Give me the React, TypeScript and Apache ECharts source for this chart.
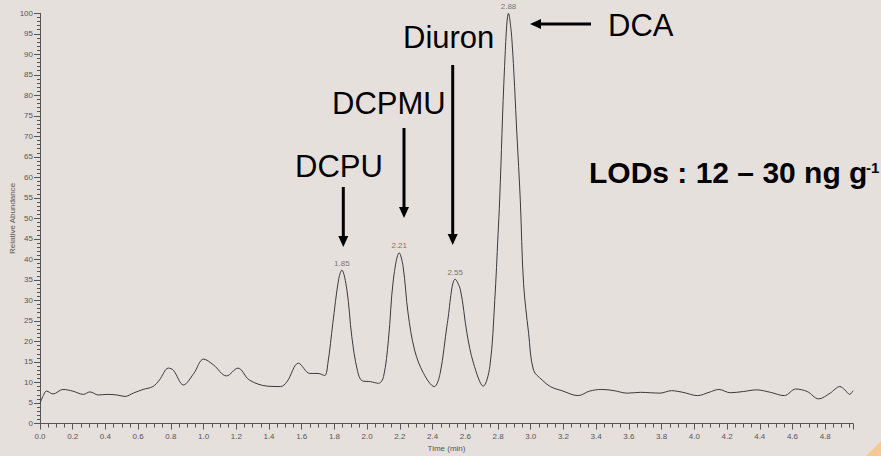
import React, { useEffect, useRef } from "react";
import * as echarts from "echarts";

const times = [
  0.0, 0.02, 0.04, 0.08, 0.14, 0.2, 0.265, 0.306, 0.357, 0.41, 0.47, 0.52, 0.57, 0.63, 0.69, 0.73, 0.785,
  0.815, 0.877, 0.94, 1.0, 1.06, 1.14, 1.21, 1.28, 1.39, 1.47, 1.51, 1.58, 1.65, 1.7, 1.74, 1.76, 1.79,
  1.825, 1.845, 1.876, 1.906, 1.94, 1.97, 2.02, 2.07, 2.1, 2.13, 2.16, 2.196, 2.22, 2.25, 2.29, 2.345,
  2.41, 2.446, 2.49, 2.538, 2.57, 2.61, 2.65, 2.71, 2.75, 2.78, 2.8, 2.81, 2.84, 2.864, 2.885, 2.915,
  2.936, 2.956, 2.987, 3.017, 3.07, 3.12, 3.19, 3.29, 3.36, 3.435, 3.51, 3.59, 3.67, 3.73, 3.79, 3.86,
  3.93, 4.02, 4.09, 4.15, 4.22, 4.3, 4.38, 4.465, 4.55, 4.62, 4.69, 4.76, 4.83, 4.89, 4.92, 4.95, 4.97,
];
const abundance = [
  4.9, 6.8, 7.9, 7.2, 8.3, 7.9, 7.1, 7.7, 6.95, 7.1, 6.95, 6.6, 7.4, 8.3, 9.0, 10.6, 13.5,
  13.0, 9.4, 12.2, 15.7, 14.3, 11.6, 13.5, 10.6, 9.1, 9.0, 10.2, 14.7, 12.2, 12.2, 11.7, 14.7, 24.4,
  35, 37.4, 32.6, 21.2, 13, 10.4, 10.2, 9.8, 11.4, 20.4, 35, 41.6, 38.2, 26.9, 17.9, 12.2,
  9.0, 12.2, 24.4, 35.2, 32.6, 22, 14.7, 9.1, 13.9, 30, 46, 54.5, 87, 100, 93.5, 70.8,
  54.5, 34.2, 22, 13, 10.6, 9.0, 8.0, 6.8, 7.9, 8.3, 8.0, 7.4, 7.6, 7.5, 7.4, 8.0,
  7.6, 6.8, 7.6, 8.3, 7.5, 7.8, 8.2, 7.6, 6.8, 8.4, 7.8, 6.0, 7.4, 9.0, 8.2, 7.1, 8.0,
];
const peakTimes = [1.845, 2.196, 2.538, 2.864];
const peakLabels = ["1.85", "2.21", "2.55", "2.88"];
const compoundNames = ["DCPU", "DCPMU", "Diuron", "DCA"];
const lodText = "LODs : 12 – 30 ng g";
const lodSup = "-1";

const FONT = "'Liberation Sans', Arial, Helvetica, sans-serif";

export default function App() {
  const ref = useRef<HTMLDivElement>(null);
  useEffect(() => {
    if (!ref.current) return;
    const chart = echarts.init(ref.current, null, { renderer: "svg" });
    const lineData = times.map((t, i) => [t, abundance[i]]);
    const peakData = peakTimes.map((t, k) => ({
      value: [t, abundance[times.indexOf(t)]],
      name: peakLabels[k],
    }));
    const black = "#000";
    const arrowV = (x: number, y1: number, tip: number) => [
      { type: "line", shape: { x1: x, y1, x2: x, y2: tip - 9 }, style: { stroke: black, lineWidth: 3 } },
      {
        type: "polygon",
        shape: { points: [[x - 5, tip - 11], [x + 5, tip - 11], [x, tip]] },
        style: { fill: black },
      },
    ];
    const bigText = (text: string, x: number, y: number) => ({
      type: "text",
      x,
      y,
      style: {
        text,
        fontSize: 31,
        fontFamily: FONT,
        fill: black,
        textAlign: "left",
        textVerticalAlign: "middle",
      },
    });
    chart.setOption({
      animation: false,
      backgroundColor: "#e6e0dd",
      grid: {
        left: 40,
        right: 28,
        top: 13.3,
        bottom: 32.5,
        containLabel: false,
        outerBoundsMode: "none",
      },
      xAxis: {
        type: "value",
        min: 0,
        max: 4.97,
        interval: 0.2,
        name: "Time (min)",
        nameLocation: "middle",
        nameGap: 21,
        nameMoveOverlap: false,
        nameTextStyle: { fontSize: 8, color: "#555", fontFamily: FONT },
        axisLine: { show: true, lineStyle: { color: "#555", width: 1 } },
        axisTick: { show: true, length: 6, lineStyle: { color: "#555" } },
        minorTick: { show: true, splitNumber: 4, length: 4, lineStyle: { color: "#555" } },
        axisLabel: {
          fontSize: 8,
          color: "#555",
          fontFamily: FONT,
          margin: 9,
          showMaxLabel: false,
          formatter: (v: number) => v.toFixed(1),
        },
        splitLine: { show: false },
        minorSplitLine: { show: false },
      },
      yAxis: {
        type: "value",
        min: 0,
        max: 100,
        interval: 5,
        name: "Relative Abundance",
        nameLocation: "middle",
        nameRotate: 90,
        nameGap: 24,
        nameMoveOverlap: false,
        nameTextStyle: { fontSize: 8, color: "#555", fontFamily: FONT },
        axisLine: { show: true, lineStyle: { color: "#555", width: 1 } },
        axisTick: { show: true, length: 6, lineStyle: { color: "#555" } },
        minorTick: { show: true, splitNumber: 5, length: 3, lineStyle: { color: "#555" } },
        axisLabel: { fontSize: 8, color: "#555", fontFamily: FONT, margin: 7 },
        splitLine: { show: false },
        minorSplitLine: { show: false },
      },
      series: [
        {
          type: "line",
          data: lineData,
          smooth: 0.35,
          symbol: "none",
          lineStyle: { color: "#3a3a3a", width: 1 },
          z: 2,
        },
        {
          type: "scatter",
          data: peakData,
          symbolSize: 2,
          itemStyle: { color: "rgba(0,0,0,0)" },
          label: {
            show: true,
            position: "top",
            distance: 2,
            formatter: (p: any) => p.name,
            fontSize: 8,
            color: "#555",
            fontFamily: FONT,
          },
          z: 3,
        },
      ],
      graphic: [
        bigText(compoundNames[0], 295, 166),
        bigText(compoundNames[1], 332, 103.5),
        bigText(compoundNames[2], 403, 37.5),
        bigText(compoundNames[3], 608, 25.5),
        ...arrowV(343.3, 187, 247),
        ...arrowV(404, 128, 218),
        ...arrowV(452.7, 65, 245),
        { type: "line", shape: { x1: 539, y1: 24, x2: 591, y2: 24 }, style: { stroke: black, lineWidth: 3 } },
        { type: "polygon", shape: { points: [[530, 24], [541, 19], [541, 29]] }, style: { fill: black } },
        {
          type: "text",
          x: 589,
          y: 172,
          style: {
            text: lodText,
            fontSize: 30,
            fontWeight: "bold",
            fontFamily: FONT,
            fill: black,
            textAlign: "left",
            textVerticalAlign: "middle",
          },
        },
        {
          type: "text",
          x: 866,
          y: 167,
          style: {
            text: lodSup,
            fontSize: 15,
            fontWeight: "bold",
            fontFamily: FONT,
            fill: black,
            textAlign: "left",
            textVerticalAlign: "middle",
          },
        },
        {
          type: "polygon",
          shape: { points: [[866, 456], [881, 441], [881, 456]] },
          style: { fill: "#f4c995" },
        },
      ],
    });
    return () => chart.dispose();
  }, []);
  return (
    <div
      ref={ref}
      style={{ position: "fixed", left: 0, top: 0, width: 881, height: 456 }}
    />
  );
}
